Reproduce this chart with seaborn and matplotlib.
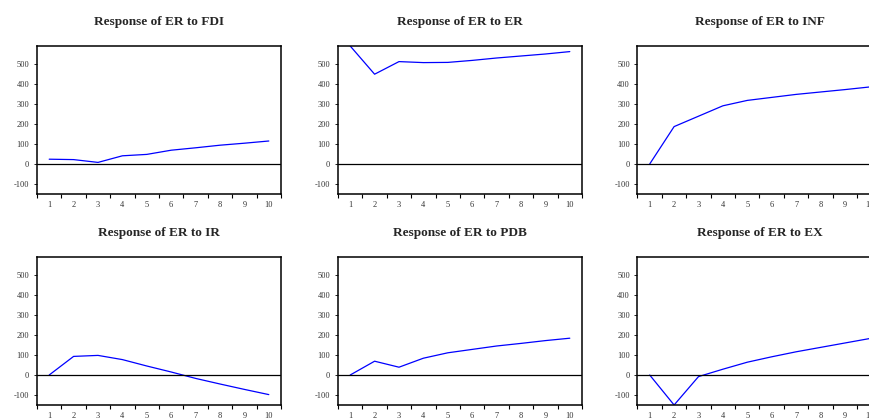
import numpy as np
import pandas as pd
import matplotlib
matplotlib.use("Agg")
import matplotlib.pyplot as plt
import seaborn as sns

periods = list(range(1, 11))
titles = ["Response of ER to FDI", "Response of ER to ER", "Response of ER to INF",
          "Response of ER to IR", "Response of ER to PDB", "Response of ER to EX"]
fdi = [24, 22, 8, 41, 48, 69, 81, 94, 104, 115]
er = [590, 449, 512, 507, 508, 518, 530, 540, 550, 562]
inf = [0, 187, 239, 291, 318, 333, 348, 360, 372, 385]
ir = [0, 93, 98, 77, 45, 15, -17, -45, -72, -98]
pdb = [0, 69, 39, 84, 111, 128, 145, 158, 172, 184]
ex = [0, -150, -8, 29, 64, 91, 116, 138, 160, 182]
series = [fdi, er, inf, ir, pdb, ex]
yticks = [-100, 0, 100, 200, 300, 400, 500]

sns.set_style("white")
plt.rcParams['font.family'] = ['Liberation Serif', 'DejaVu Serif']

fig = plt.figure(figsize=(8.7, 4.2), dpi=100)
W, H = 870, 420
lefts = [37, 338, 637.5]
tops = [46, 257]
aw, ah = 244, 148

for i, (title, vals) in enumerate(zip(titles, series)):
    r, c = divmod(i, 3)
    ax = fig.add_axes([lefts[c] / W, 1 - (tops[r] + ah) / H, aw / W, ah / H])
    df = pd.DataFrame({"period": periods, "value": vals})
    sns.lineplot(data=df, x="period", y="value", ax=ax, color="#0000ff", linewidth=0.9)
    ax.axhline(0, color="black", linewidth=0.9)
    ax.set_xlim(0.5, 10.5)
    ax.set_ylim(-150, 590)
    ax.set_xticks(np.arange(0.5, 11, 1))
    ax.set_xticklabels([])
    ax.set_xticks(periods, minor=True)
    ax.set_xticklabels([str(p) for p in periods], minor=True)
    ax.tick_params(axis="x", which="major", direction="out", length=3, width=0.8, color="black", bottom=True)
    ax.tick_params(axis="x", which="minor", length=0, labelsize=6, pad=5, labelcolor="#333333")
    ax.set_yticks(yticks)
    ax.set_yticklabels([str(t) for t in yticks])
    ax.tick_params(axis="y", direction="out", length=2.5, width=0.6, color="black", labelsize=6, pad=3,
                   left=True, labelcolor="#333333")
    ax.set_xlabel("")
    ax.set_ylabel("")
    for s in ax.spines.values():
        s.set_color("black")
        s.set_linewidth(1.1)
    ax.set_title(title, fontsize=9.5, fontweight="bold", pad=15)

fig.savefig("out.png", dpi=100)
